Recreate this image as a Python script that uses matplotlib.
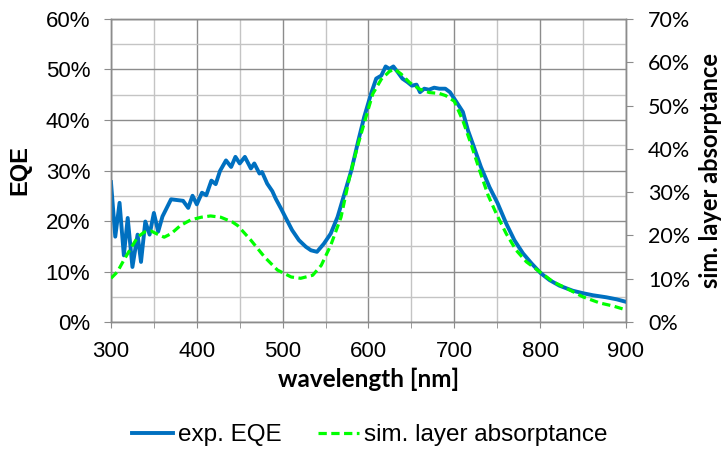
import matplotlib
matplotlib.use("Agg")
import matplotlib.pyplot as plt
from matplotlib.ticker import MultipleLocator, PercentFormatter

# experimental EQE (left axis, %)
wl_eqe = [300, 305, 310, 315, 319.5, 325, 331, 335, 340, 345, 350, 355, 360, 370,
          384, 390, 395, 400, 406, 411, 417, 422, 427, 434, 440, 445, 450, 456,
          463, 467, 473, 476, 482, 488, 492, 498, 504, 511, 519, 527, 533, 540,
          548, 556, 564, 572, 580, 588, 595, 603, 609, 615, 620, 624.5, 629, 634,
          639.5, 645.5, 650.5, 656, 660, 665, 670.5, 676.5, 682.5, 689.5, 695,
          702, 710, 716, 721.5, 731, 741, 750.5, 760.5, 770, 780, 790, 800.5,
          811, 822.5, 838, 850, 861.5, 877, 889, 900]
eqe = [27.7, 16.9, 23.6, 13.2, 20.6, 10.9, 17.3, 11.9, 19.9, 17.3, 21.6, 17.9, 20.9, 24.3,
       24.0, 22.6, 25.0, 23.3, 25.6, 25.1, 28.0, 27.3, 29.9, 32.0, 30.7, 32.7, 31.4, 32.7,
       30.4, 31.4, 29.4, 29.7, 27.4, 25.9, 24.4, 22.5, 20.5, 18.2, 16.2, 14.9, 14.2, 13.9,
       15.5, 17.5, 20.8, 25.4, 30.0, 35.8, 40.6, 45.2, 48.2, 48.8, 50.6, 50.1, 50.6, 49.5,
       48.2, 47.5, 46.8, 47.0, 45.5, 46.2, 46.0, 46.4, 46.2, 46.2, 45.5,
       43.7, 41.6, 37.9, 35.3, 30.7, 26.7, 23.5, 19.5, 16.2, 13.6, 11.6, 9.7,
       8.3, 7.2, 6.2, 5.7, 5.3, 4.9, 4.5, 4.0]

# simulated layer absorptance (right axis, %)
wl_sim = [300, 307.5, 315, 323, 331, 339, 347, 354, 362, 370, 381, 393, 405, 416,
          428, 441.5, 447.5, 463, 479, 494, 510, 521, 535, 545, 556, 568, 578,
          587, 597, 605, 615, 624.5, 630.5, 638, 648, 659.5, 671, 682.5, 690,
          700, 710, 720, 729.5, 739.5, 749, 760.5, 772, 784, 799.5, 815, 830.5,
          850, 869.5, 885, 900]
sim = [10.1, 11.6, 14.3, 17.0, 19.6, 20.8, 21.0, 20.3, 19.6, 20.4, 22.3, 23.6, 24.2, 24.5,
       24.2, 23.1, 22.3, 18.9, 15.0, 12.0, 10.4, 10.1, 10.8, 13.1, 17.7, 24.2, 33.5,
       40.4, 47.3, 52.7, 56.1, 57.9, 58.4, 57.3, 55.3, 53.8, 53.0, 52.8, 52.3,
       51.0, 46.5, 40.8, 35.0, 29.2, 25.0, 20.4, 16.6, 13.9, 11.6, 9.3, 7.8,
       5.8, 4.4, 3.7, 2.8]

BLUE = "#0070C0"
GREEN = "#00FF00"
MAJOR = "#8c8c8c"
MINOR = "#c4c4c4"

fig = plt.figure(figsize=(7.22, 4.5), dpi=100)
ax = fig.add_axes([0.1537, 0.2844, 0.7133, 0.6734])
ax2 = ax.twinx()

l1, = ax.plot(wl_eqe, eqe, color=BLUE, linewidth=2.8, label="exp. EQE", zorder=3)
l2, = ax2.plot(wl_sim, sim, color=GREEN, linewidth=2.3, linestyle=(0, (2.6, 1.4)),
               label="sim. layer absorptance", zorder=3)

ax.set_xlim(300, 900)
ax.set_ylim(0, 60)
ax2.set_ylim(0, 70)

ax.xaxis.set_major_locator(MultipleLocator(100))
ax.xaxis.set_minor_locator(MultipleLocator(50))
ax.yaxis.set_major_locator(MultipleLocator(10))
ax.yaxis.set_minor_locator(MultipleLocator(5))
ax2.yaxis.set_major_locator(MultipleLocator(10))
ax.yaxis.set_major_formatter(PercentFormatter(decimals=0))
ax2.yaxis.set_major_formatter(PercentFormatter(decimals=0))

ax.grid(which="major", color=MAJOR, linewidth=1.0)
ax.grid(which="minor", color=MINOR, linewidth=1.0)
ax.set_axisbelow(True)

for a in (ax, ax2):
    for s in a.spines.values():
        s.set_color(MAJOR)
        s.set_linewidth(1.0)

ax.tick_params(axis="x", which="both", length=4, color=MAJOR, pad=10,
               labelsize=16)
ax.tick_params(axis="y", which="major", length=5, color=MAJOR, pad=10,
               labelsize=16)
ax.tick_params(axis="y", which="minor", length=0)
ax2.tick_params(axis="y", length=5, color=MAJOR, pad=11, labelsize=15.5)
for lab in ax.get_xticklabels() + ax.get_yticklabels():
    lab.set_family("Liberation Sans")
for lab in ax2.get_yticklabels():
    lab.set_family("Lato")

ax.set_xlabel("wavelength [nm]", fontsize=17.5, fontweight="bold", family="Lato",
              labelpad=4)
ax.set_ylabel("EQE", fontsize=17, fontweight="bold", family="Liberation Sans",
              labelpad=10)
ax2.set_ylabel("sim. layer absorptance", fontsize=17, fontweight="bold",
               family="Lato", labelpad=6)

fig.legend(handles=[l1, l2], loc="center", bbox_to_anchor=(0.512, 0.033),
           ncol=2, frameon=False, handlelength=1.7, columnspacing=1.5,
           handletextpad=0.2, prop={"family": "Liberation Sans", "size": 17.5})

fig.savefig("out.png", dpi=100)
